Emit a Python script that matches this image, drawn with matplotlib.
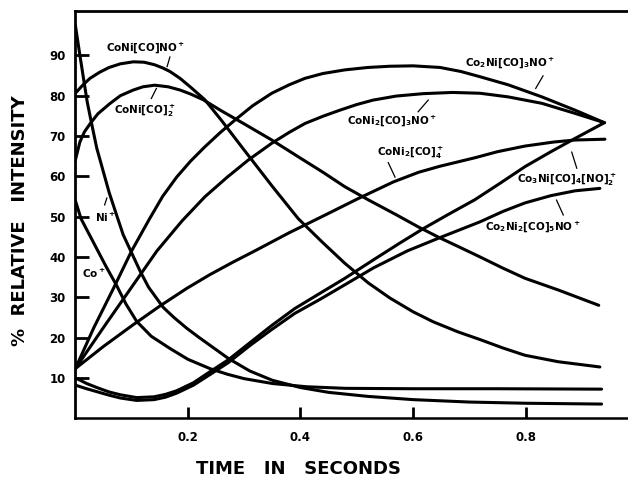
import numpy as np
import matplotlib
matplotlib.use("Agg")
import matplotlib.pyplot as plt

plt.rcParams['font.family'] = ['DejaVu Sans']
plt.rcParams['mathtext.default'] = 'regular'

# values (time in s, % relative intensity)
t_ni = [0, 0.007, 0.014, 0.021, 0.029, 0.038, 0.049, 0.06, 0.073, 0.085, 0.10, 0.115, 0.13, 0.156,
        0.175, 0.198, 0.22, 0.239, 0.272, 0.31, 0.35, 0.40, 0.45, 0.52, 0.60, 0.70, 0.80, 0.935]
v_ni = [97.5, 91, 84.7, 78.5, 73, 67, 61.5, 56, 50.5, 45.5, 41, 36.5, 32.5, 27.5,
        25, 22.3, 20, 18.1, 14.8, 11.7, 9.4, 7.6, 6.4, 5.4, 4.6, 4.0, 3.7, 3.5]

t_co = [0, 0.01, 0.025, 0.04, 0.055, 0.073, 0.09, 0.109, 0.135, 0.168, 0.20, 0.239, 0.27, 0.30,
        0.35, 0.41, 0.48, 0.60, 0.75, 0.935]
v_co = [54, 49.5, 45.5, 41.5, 37.5, 33, 28.3, 24, 20.3, 17.3, 14.6, 12.3, 10.9, 9.8,
        8.6, 7.8, 7.4, 7.3, 7.3, 7.2]

t_coni_no = [0, 0.013, 0.026, 0.043, 0.06, 0.08, 0.103, 0.122, 0.14, 0.155, 0.168, 0.186, 0.204,
             0.23, 0.26, 0.30, 0.35, 0.396, 0.44, 0.479, 0.52, 0.559, 0.60, 0.636, 0.68, 0.719,
             0.76, 0.799, 0.858, 0.932]
v_coni_no = [80.6, 82.6, 84.3, 85.8, 87, 87.9, 88.4, 88.3, 87.7, 86.9, 86, 84.3, 82.2,
             79, 73.8, 66.5, 57.5, 49.5, 43.5, 38.4, 33.6, 29.8, 26.4, 23.9, 21.4, 19.5,
             17.4, 15.6, 14, 12.7]

t_coni_co2 = [0, 0.008, 0.016, 0.026, 0.04, 0.061, 0.08, 0.103, 0.12, 0.141, 0.165, 0.186, 0.205,
              0.227, 0.26, 0.30, 0.349, 0.40, 0.44, 0.479, 0.52, 0.571, 0.61, 0.648, 0.68, 0.719,
              0.76, 0.799, 0.858, 0.93]
v_coni_co2 = [64, 68.5, 71, 73, 75.5, 78, 80, 81.4, 82.2, 82.6, 82.2, 81.4, 80.4,
              79, 76.2, 73, 69, 64.5, 61, 57.4, 54.2, 50.4, 47.4, 44.7, 42.6, 40,
              37.2, 34.7, 31.8, 28]

t_co2ni = [0, 0.033, 0.067, 0.1, 0.132, 0.155, 0.18, 0.205, 0.23, 0.257, 0.284, 0.315, 0.349, 0.38,
           0.408, 0.44, 0.479, 0.52, 0.559, 0.60, 0.648, 0.685, 0.719, 0.769, 0.829, 0.888, 0.94]
v_co2ni = [12.3, 22.5, 32, 41.5, 49.5, 55, 59.8, 63.8, 67.3, 70.8, 74, 77.5, 80.6, 82.7,
           84.3, 85.5, 86.4, 87, 87.3, 87.4, 87, 86, 84.7, 82.7, 79.7, 76.4, 73.3]

t_coni2_no = [0, 0.05, 0.1, 0.145, 0.19, 0.23, 0.27, 0.307, 0.349, 0.38, 0.408, 0.44, 0.47, 0.5,
              0.529, 0.57, 0.618, 0.67, 0.719, 0.769, 0.829, 0.888, 0.94]
v_coni2_no = [12.3, 22.5, 32.5, 41.5, 49, 54.9, 59.8, 64, 68.2, 70.9, 73.1, 74.9, 76.4, 77.8,
              78.9, 79.9, 80.5, 80.8, 80.6, 79.7, 78.1, 75.6, 73.3]

t_coni2_co4 = [0, 0.05, 0.1, 0.15, 0.198, 0.239, 0.28, 0.319, 0.38, 0.444, 0.5, 0.565, 0.61, 0.648,
               0.71, 0.75, 0.799, 0.85, 0.888, 0.941]
v_coni2_co4 = [12.3, 17.8, 22.9, 27.8, 32.2, 35.6, 38.7, 41.5, 46, 50.4, 54.3, 58.6, 61, 62.5,
               64.6, 66.1, 67.5, 68.5, 69, 69.2]

t_co3ni = [0, 0.02, 0.04, 0.06, 0.08, 0.109, 0.14, 0.16, 0.18, 0.21, 0.239, 0.272, 0.31, 0.349,
           0.39, 0.435, 0.479, 0.53, 0.575, 0.618, 0.666, 0.71, 0.755, 0.799, 0.845, 0.888, 0.94]
v_co3ni = [10, 8.6, 7.5, 6.5, 5.8, 5.1, 5.3, 5.9, 6.8, 8.8, 11.5, 14.5, 18.7, 23,
           27.2, 31, 34.7, 39.3, 43.3, 47, 50.8, 54.2, 58.3, 62.4, 66.1, 69.4, 73.3]

t_co2ni2 = [0, 0.02, 0.04, 0.06, 0.08, 0.109, 0.14, 0.16, 0.18, 0.21, 0.239, 0.272, 0.31, 0.349,
            0.39, 0.435, 0.479, 0.53, 0.59, 0.648, 0.719, 0.76, 0.799, 0.845, 0.888, 0.932]
v_co2ni2 = [8.2, 7.3, 6.5, 5.7, 5.0, 4.4, 4.6, 5.2, 6.2, 8.2, 10.8, 13.8, 18, 22,
            26, 29.5, 33.1, 37.3, 41.5, 44.8, 48.7, 51.3, 53.4, 55.2, 56.4, 57]

x_ticks = [0.2, 0.4, 0.6, 0.8]
y_ticks = [10, 20, 30, 40, 50, 60, 70, 80, 90]

fig = plt.figure(figsize=(6.28, 4.79), dpi=100)
ax = fig.add_axes([0.12, 0.127, 0.88, 0.85])

series = [(t_ni, v_ni), (t_co, v_co), (t_coni_no, v_coni_no), (t_coni_co2, v_coni_co2),
          (t_co2ni, v_co2ni), (t_coni2_no, v_coni2_no), (t_coni2_co4, v_coni2_co4),
          (t_co3ni, v_co3ni), (t_co2ni2, v_co2ni2)]
for t, v in series:
    ax.plot(t, v, color='black', lw=2.2, solid_capstyle='round', solid_joinstyle='round')

# species labels with short pointer strokes
lab = dict(fontsize=7.5, fontweight='bold', ha='center', va='center')
ax.text(0.125, 91.8, r'CoNi[CO]NO$^+$', **lab)
ax.plot([0.163, 0.168], [87.2, 89.6], color='black', lw=0.9)
ax.text(0.124, 76.2, r'CoNi[CO]$_2^+$', **lab)
ax.plot([0.135, 0.144], [79.3, 81.8], color='black', lw=0.9)
ax.text(0.053, 49.8, r'Ni$^+$', **lab)
ax.plot([0.052, 0.056], [52.9, 54.6], color='black', lw=0.9)
ax.text(0.033, 36, r'Co$^+$', **lab)
ax.text(0.772, 88.1, r'Co$_2$Ni[CO]$_3$NO$^+$', **lab)
ax.plot([0.831, 0.818], [84.9, 81.8], color='black', lw=0.9)
ax.text(0.563, 73.9, r'CoNi$_2$[CO]$_3$NO$^+$', **lab)
ax.plot([0.609, 0.627], [76.0, 78.9], color='black', lw=0.9)
ax.text(0.595, 65.8, r'CoNi$_2$[CO]$_4^+$', **lab)
ax.plot([0.556, 0.568], [63.4, 59.8], color='black', lw=0.9)
ax.text(0.874, 59.1, r'Co$_3$Ni[CO]$_4$[NO]$_2^+$', **lab)
ax.plot([0.891, 0.882], [62.0, 66.0], color='black', lw=0.9)
ax.text(0.813, 47.4, r'Co$_2$Ni$_2$[CO]$_5$NO$^+$', **lab)
ax.plot([0.867, 0.855], [50.4, 54.1], color='black', lw=0.9)

ax.set_xlim(0, 0.982)
ax.set_ylim(0, 101)
ax.set_xticks(x_ticks)
ax.set_xticklabels([str(x) for x in x_ticks])
ax.set_yticks(y_ticks)
ax.set_yticklabels([str(y) for y in y_ticks])
ax.tick_params(axis='x', direction='in', length=8, width=2, pad=9, labelsize=8.5)
ax.tick_params(axis='y', direction='in', length=10, width=2, pad=7, labelsize=8.5)
for lbl in ax.get_xticklabels() + ax.get_yticklabels():
    lbl.set_fontweight('bold')

ax.spines['right'].set_visible(False)
ax.spines['left'].set_linewidth(2.0)
ax.spines['bottom'].set_linewidth(1.8)
ax.spines['top'].set_linewidth(2.0)

fig.text(0.032, 0.54, '%  RELATIVE   INTENSITY', rotation=90, ha='center', va='center',
         fontsize=13, fontweight='bold')
fig.text(0.476, 0.02, 'TIME   IN   SECONDS', ha='center', va='center',
         fontsize=13, fontweight='bold')

fig.savefig('out.png', dpi=100)
